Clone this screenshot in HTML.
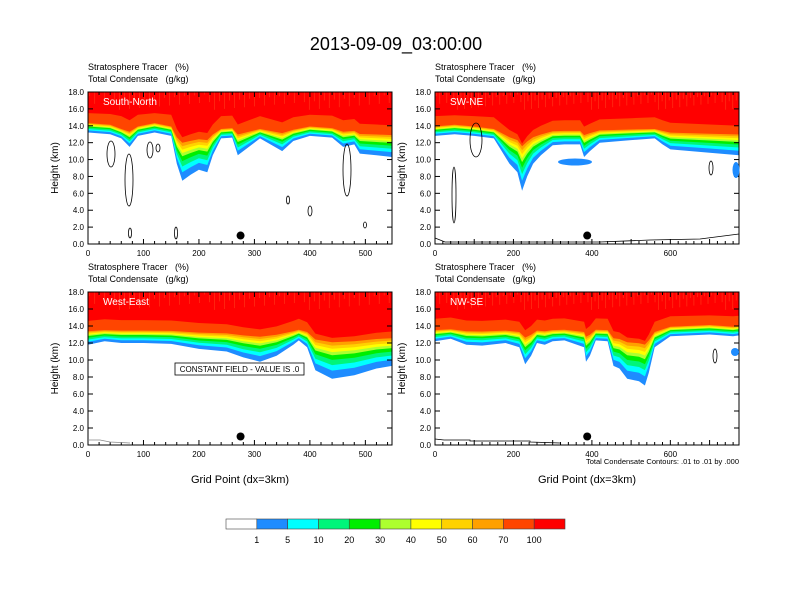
<!DOCTYPE html>
<html><head><meta charset="utf-8">
<style>
html,body{margin:0;padding:0;background:#fff;}
svg{display:block;font-family:"Liberation Sans",sans-serif;}
text{white-space:pre;}
</style></head>
<body>
<svg id="chart" width="792" height="612" viewBox="0 0 792 612">
<text x="396" y="50" font-size="18" text-anchor="middle">2013-09-09_03:00:00</text>
</svg>
<script>
const levels=[1,5,10,20,30,40,50,60,70,100];
const colors=["#1e8cff","#00ffff","#00f57a","#00ee00","#adff2f","#ffff00","#ffd200","#ffa000","#ff4500","#ff0000"];
const bandOffsets=[0,0.25,0.42,0.58,0.72,0.82,0.92,1.02,1.12];
// panel data: grid points and base height (km) of 1% tracer contour
const tlX=[0,40,60,75,90,120,150,160,170,185,200,215,225,240,260,270,290,310,350,370,400,440,460,480,490,520,548];
const tlBase=[13.2,13.0,12.5,11.5,12.8,13.2,12.8,9.5,7.5,8.2,8.8,8.5,10.5,12.5,12.6,10.5,11.5,12.5,11.0,12.2,12.8,12.6,11.5,11.8,10.7,10.5,10.3];
const trX=[0,50,100,150,170,190,210,222,235,250,270,300,330,370,380,395,420,500,560,580,600,700,775];
const trBase=[12.8,13.0,12.8,12.5,11.0,9.5,8.5,6.3,8.0,9.5,10.5,11.7,11.8,11.8,10.3,11.0,12.0,12.3,12.5,11.8,11.2,10.8,10.5];
const blX=[0,30,60,100,150,200,250,280,310,340,370,380,395,410,440,480,520,548];
const blBase=[11.8,12.2,12.0,12.0,11.9,11.3,11.0,10.3,9.8,10.5,11.8,12.3,11.5,8.8,7.8,8.2,9.0,9.3];
const brX=[0,40,80,120,180,215,230,245,260,280,300,330,380,385,395,410,440,455,470,490,520,535,545,560,600,700,760,775];
const brBase=[12.2,12.5,11.8,11.7,12.0,11.5,9.5,10.5,12.0,11.8,12.2,12.3,11.5,9.8,10.5,12.3,12.2,9.3,9.0,7.8,7.5,7.0,8.5,11.5,12.8,13.0,12.8,12.9];
const yTicks=[0,2,4,6,8,10,12,14,16,18];
const xTicksShort=[0,100,200,300,400,500];
const xTicksLong=[0,200,400,600];
const cbLabels=["1","5","10","20","30","40","50","60","70","100"];
const panels=[
 {name:"south-north",label:"South-North",x0:88,x1:392,y0:92,y1:244,xmax:548,gx:tlX,base:tlBase,redCap:15.8,ticks:xTicksShort,dot:275,xtitle:false},
 {name:"sw-ne",label:"SW-NE",x0:435,x1:739,y0:92,y1:244,xmax:775,gx:trX,base:trBase,redCap:15.5,ticks:xTicksLong,dot:388,xtitle:false},
 {name:"west-east",label:"West-East",x0:88,x1:392,y0:292,y1:445,xmax:548,gx:blX,base:blBase,redCap:15.4,ticks:xTicksShort,dot:275,xtitle:true},
 {name:"nw-se",label:"NW-SE",x0:435,x1:739,y0:292,y1:445,xmax:775,gx:brX,base:brBase,redCap:15.5,ticks:xTicksLong,dot:388,xtitle:true}
];
const NS="http://www.w3.org/2000/svg";
const svg=document.getElementById('chart');
function mk(tag,attrs,parent){const e=document.createElementNS(NS,tag);for(const k in attrs)e.setAttribute(k,attrs[k]);(parent||svg).appendChild(e);return e;}
panels.forEach((p,pi)=>{
 const sx=v=>p.x0+(v/p.xmax)*(p.x1-p.x0);
 const sy=v=>p.y1-(v/18)*(p.y1-p.y0);
 const g=mk('g',{});
 
 
 const cp=mk('clipPath',{id:'clip'+pi},g);
 mk('rect',{x:p.x0,y:p.y0,width:p.x1-p.x0,height:p.y1-p.y0},cp);
 const fills=mk('g',{'clip-path':'url(#clip'+pi+')'},g);
 for(let k=0;k<10;k++){
  let pts=[[sx(0),sy(18)],[sx(p.xmax),sy(18)]];
  for(let i=p.gx.length-1;i>=0;i--){
   const b=p.base[i];
   const f=1+Math.max(0,12.5-b)*0.6;
   let h;
   if(k<9) h=Math.min(b+bandOffsets[k]*f,p.redCap-0.1);
   else h=Math.min(p.redCap,(p.redCap+b+2)/2);
   h=Math.min(h,18);
   pts.push([sx(p.gx[i]),sy(h)]);
  }
  const poly=mk('polygon',{points:pts.map(q=>q[0].toFixed(1)+','+q[1].toFixed(1)).join(' '),fill:colors[k]},fills);
  
  
 }
 for(let v=3;v<p.xmax;v+=9){
  const h=15.9+((v*37)%19)/10;
  mk('line',{x1:sx(v),y1:sy(h),x2:sx(v),y2:sy(18),stroke:'#ff4a20','stroke-width':0.8,opacity:0.6},fills);
 }
 mk('rect',{x:p.x0,y:p.y0,width:p.x1-p.x0,height:p.y1-p.y0,fill:'none',stroke:'#000','stroke-width':1},g);
 yTicks.forEach(t=>{
  const y=sy(t);
  mk('line',{x1:p.x0,y1:y,x2:p.x0+5,y2:y,stroke:'#000'},g);
  mk('line',{x1:p.x1,y1:y,x2:p.x1-5,y2:y,stroke:'#000'},g);
  const tx=mk('text',{x:p.x0-4,y:y+3,'font-size':8,'text-anchor':'end'},g);
  tx.textContent=t.toFixed(1);
  
  
 });
 for(let v=0;v<=p.xmax;v+=20){
  const x=sx(v);const major=v%100===0;
  mk('line',{x1:x,y1:p.y1,x2:x,y2:p.y1-(major?5:3),stroke:'#000'},g);
  mk('line',{x1:x,y1:p.y0,x2:x,y2:p.y0+(major?5:3),stroke:'#000'},g);
 }
 p.ticks.forEach(t=>{
  const tx=mk('text',{x:sx(t),y:p.y1+12,'font-size':8,'text-anchor':'middle'},g);
  tx.textContent=t;
  
  
 });
 const lab=mk('text',{x:p.x0+15,y:p.y0+13,'font-size':10,fill:'#fff'},g);
 lab.textContent=p.label;
 
 
 const t1=mk('text',{x:p.x0,y:p.y0-22,'font-size':9},g);
 t1.textContent='Stratosphere Tracer   (%)';
 
 
 const t2=mk('text',{x:p.x0,y:p.y0-10,'font-size':9},g);
 t2.textContent='Total Condensate   (g/kg)';
 
 
 const yl=mk('text',{x:0,y:0,'font-size':10,'text-anchor':'middle',transform:'translate('+(p.x0-30)+','+((p.y0+p.y1)/2)+') rotate(-90)'},g);
 yl.textContent='Height (km)';
 
 
 const dot=mk('circle',{cx:sx(p.dot),cy:sy(1.0),r:4,fill:'#000'},g);
 
 
 if(p.xtitle){
  const xt=mk('text',{x:(p.x0+p.x1)/2,y:p.y1+38,'font-size':11,'text-anchor':'middle'},g);
  xt.textContent='Grid Point (dx=3km)';
  
  
 }
});
[[575,162,17,3.5],[736,170,3.5,8],[735,352,4,4]].forEach(c=>{
 const e=mk('ellipse',{cx:c[0],cy:c[1],rx:c[2],ry:c[3],fill:'#1e8cff'});
 
 
});
[[111,154,4,13],[129,180,4,26],[150,150,3,8],[158,148,2,4],[347,170,4,26],[130,233,1.5,5],[176,233,1.5,6],[288,200,1.5,4],[310,211,2,5],[365,225,1.5,3],[476,140,6,17],[454,195,2,28],[711,168,2,7],[715,356,2,7]].forEach(c=>{
 const e=mk('ellipse',{cx:c[0],cy:c[1],rx:c[2],ry:c[3],fill:'none',stroke:'#000','stroke-width':0.8});
 
 
});
mk('polyline',{points:'435,238 445,242 600,242 650,240 700,239 739,234',fill:'none',stroke:'#000','stroke-width':0.8});
mk('polyline',{points:'435,439 444,440 470,440 470,441 530,441 530,442 560,443',fill:'none',stroke:'#000','stroke-width':0.8});
mk('polyline',{points:'88,440 100,440 110,442 130,443',fill:'none',stroke:'#888','stroke-width':0.8});
const cfb=mk('rect',{x:175,y:363,width:129,height:12,fill:'#fff',stroke:'#000','stroke-width':0.8});


const cft=mk('text',{x:239.5,y:372,'font-size':8,'text-anchor':'middle'});
cft.textContent='CONSTANT FIELD - VALUE IS .0';


const ct=mk('text',{x:739,y:464,'font-size':7.5,'text-anchor':'end'});
ct.textContent='Total Condensate Contours: .01 to .01 by .000';


const cbColors=["#ffffff"].concat(colors);
const cbx=226,cbw=339,cby=519,cbh=10,bw=cbw/11;
cbColors.forEach((c,i)=>{
 const r=mk('rect',{x:cbx+i*bw,y:cby,width:bw,height:cbh,fill:c,stroke:'#444','stroke-width':0.6});
 
 
});
cbLabels.forEach((l,i)=>{
 const t=mk('text',{x:cbx+(i+1)*bw,y:cby+24,'font-size':9,'text-anchor':'middle'});
 t.textContent=l;
 
 
});
</script>
</body></html>
